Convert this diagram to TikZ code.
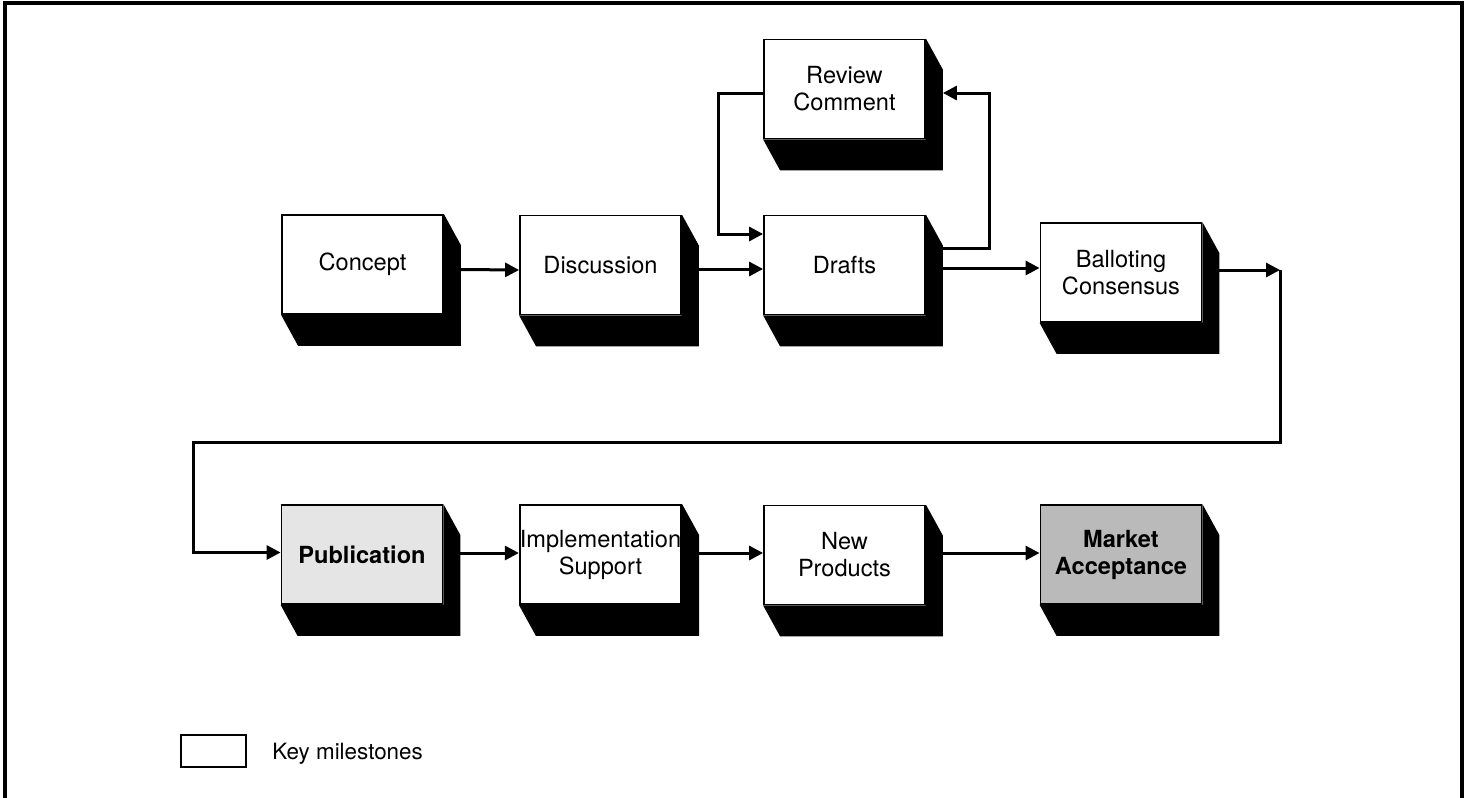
\documentclass[tikz,border=0pt]{standalone}
\usepackage{fontspec}
\setmainfont{TeX Gyre Heros}
\usetikzlibrary{arrows.meta,calc}
\begin{document}
\begin{tikzpicture}[x=0.5pt, y=-0.5pt,
	stagebox/.style={draw, line width=0.9pt, fill=white, minimum width=80.5pt, minimum height=49.5pt,
		inner sep=0pt, align=center, font=\fontsize{11.8}{13.5}\selectfont},
	keystage/.style={stagebox, font=\fontsize{11.8}{13.5}\selectfont\bfseries},
	arr/.style={line width=1.5pt, -{Triangle[length=7pt, width=7pt]}}]
	% page size and frame
	\useasboundingbox (0,0) rectangle (1464,798);
	\draw [line width=1.6pt] (5,798) -- (5,3) -- (1462,3) -- (1462,798);
	% first row
	\node[stagebox] (concept) at (362.5,264.5) {Concept};
	\node[stagebox] (discussion) at (600.5,265) {Discussion};
	\node[stagebox] (drafts) at (844.5,265) {Drafts};
	\node[stagebox] (review) at (844.5,89) {Review\\Comment};
	\node[stagebox] (ballot) at (1121,272.5) {Balloting\\Consensus};
	% second row
	\node[keystage, fill=black!10] (pub) at (362,554.5) {Publication};
	\node[stagebox] (impl) at (600.5,554.5) {Implementation\\Support};
	\node[stagebox] (newprod) at (844.5,555) {New\\Products};
	\node[keystage, fill=black!27] (market) at (1121,554.5) {Market\\Acceptance};
	% box shadows
	\foreach \n in {concept,discussion,drafts,review,ballot,pub,impl,newprod,market}
		\fill (\n.north east) -- ($(\n.north east)+(17,31)$) -- ($(\n.south east)+(17,31)$)
			-- ($(\n.south west)+(17,31)$) -- (\n.south west) -- (\n.south east) -- cycle;
	% first row arrows
	\draw[arr] ($(concept.east)+(17,5)$) -- ($(discussion.west)+(0,5)$);
	\draw[arr] ($(discussion.east)+(17,4)$) -- ($(drafts.west)+(0,4)$);
	\draw[arr] ($(review.west)+(0,4)$) -| ($(drafts.west)+(-45,-31)$) -- ($(drafts.west)+(0,-31)$);
	\draw[arr] ($(drafts.east)+(17,-17)$) -- ++(47,0) |- ($(review.east)+(17,4)$);
	\draw[arr] ($(drafts.east)+(17,3)$) -- ($(ballot.west)+(0,-4.5)$);
	% return to second row
	\coordinate (turnA) at (1280,270);
	\coordinate (turnB) at (193,442);
	\draw[arr] ($(ballot.east)+(17,-2.5)$) -- (turnA);
	\draw[arr] (turnA) |- (turnB) |- ($(pub.west)+(0,-2)$);
	% second row arrows
	\draw[arr] ($(pub.east)+(17,-1.5)$) -- ($(impl.west)+(0,-1.5)$);
	\draw[arr] ($(impl.east)+(17,-1.5)$) -- ($(newprod.west)+(0,-2)$);
	\draw[arr] ($(newprod.east)+(17,-2)$) -- ($(market.west)+(0,-1.5)$);
	% legend
	\node[draw, line width=0.9pt, minimum width=32.5pt, minimum height=16pt, inner sep=0pt] (keybox) at (213.5,751) {};
	\node[anchor=west, inner sep=0pt, font=\fontsize{11.2}{13.5}\selectfont] (keytext) at (272,754) {Key milestones};
\end{tikzpicture}
\end{document}
